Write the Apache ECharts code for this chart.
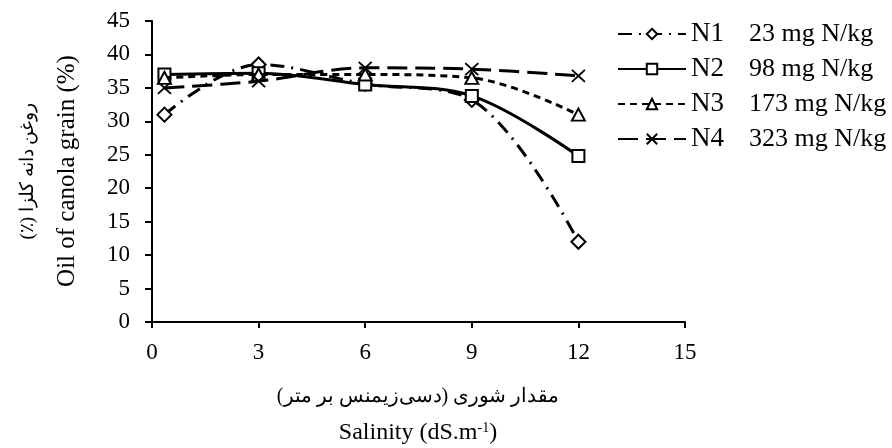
<!DOCTYPE html>
<html><head><meta charset="utf-8">
<script src="https://cdn.jsdelivr.net/npm/echarts@6/dist/echarts.min.js"></script>
<style>html,body{margin:0;padding:0;background:#fff}#c{width:892px;height:448px}</style>
</head><body><div id="c"></div>
<script>
const salinity = [0.35, 3, 6, 9, 12];
const seriesNames = ['N1', 'N2', 'N3', 'N4'];
const seriesDesc = ['23 mg N/kg', '98 mg N/kg', '173 mg N/kg', '323 mg N/kg'];
const n1 = [31, 38.5, 35.6, 33.2, 12];
const n2 = [37, 37.2, 35.5, 33.8, 24.8];
const n3 = [36.5, 37, 37, 36.5, 31];
const n4 = [35, 36, 38, 37.8, 36.8];
const xTitleFa = 'مقدار شوری (دسی‌زیمنس بر متر)';
const xTitleEn = 'Salinity (dS.m';
const yTitleFa = 'روغن دانه کلزا (٪)';
const yTitleEn = 'Oil of canola grain (%)';

const F = '"Liberation Serif","Times New Roman",serif';
const RLM = '\u200F';
const vals = [n1, n2, n3, n4];
const symbols = ['emptyDiamond', 'emptyRect', 'emptyTriangle', 'path://M0,0L10,10M10,0L0,10'];
const sizes = [[14, 14], [12, 12], [13, 12], [13, 12]];
const dashes = [[14, 7, 2, 7], 'solid', [7, 5], [20, 8]];
const descMap = {};
seriesNames.forEach((n, i) => descMap[n] = seriesDesc[i]);

const chart = echarts.init(document.getElementById('c'));
chart.setOption({
  backgroundColor: '#fff',
  animation: false,
  grid: { left: 152, top: 21, width: 533, height: 301 },
  xAxis: {
    type: 'value', min: 0, max: 15, interval: 3,
    axisLine: { lineStyle: { color: '#000', width: 2 } },
    axisTick: { show: true, length: 6, lineStyle: { color: '#000', width: 2 } },
    splitLine: { show: false },
    axisLabel: { color: '#000', fontFamily: F, fontSize: 23, margin: 19 }
  },
  yAxis: {
    type: 'value', min: 0, max: 45, interval: 5,
    axisLine: { show: true, lineStyle: { color: '#000', width: 2 } },
    axisTick: { show: true, length: 7, lineStyle: { color: '#000', width: 2 } },
    splitLine: { show: false },
    axisLabel: { color: '#000', fontFamily: F, fontSize: 23, margin: 22 }
  },
  legend: {
    orient: 'vertical', left: 612, top: 15, itemGap: 7,
    itemWidth: 68, itemHeight: 13,
    data: seriesNames,
    formatter: n => '{n|' + n + '}{d|' + descMap[n] + '}',
    textStyle: {
      color: '#000', fontFamily: F, fontSize: 26, lineHeight: 28,
      rich: {
        n: { fontFamily: F, fontSize: 27, width: 58, color: '#000', lineHeight: 28 },
        d: { fontFamily: F, fontSize: 26, color: '#000', lineHeight: 28 }
      }
    }
  },
  series: seriesNames.map((name, i) => ({
    name, type: 'line', smooth: 0.35,
    data: salinity.map((x, j) => [x, vals[i][j]]),
    symbol: symbols[i], symbolSize: sizes[i],
    itemStyle: { color: '#000', borderColor: '#000', borderWidth: 1.8 },
    lineStyle: { color: '#000', width: 3, type: dashes[i] },
    z: 2 + i
  })),
  graphic: [
    { type: 'text', x: 67, y: 171, rotation: Math.PI / 2,
      style: { text: yTitleEn, font: '25px ' + F, fill: '#000', align: 'center', verticalAlign: 'middle' } },
    { type: 'text', x: 28, y: 171, rotation: Math.PI / 2,
      style: { text: RLM + yTitleFa + RLM, font: '19px ' + F, fill: '#000', align: 'center', verticalAlign: 'middle' } },
    { type: 'text', x: 418, y: 397,
      style: { text: RLM + xTitleFa + RLM, font: '20px ' + F, fill: '#000', align: 'center', verticalAlign: 'middle' } },
    { type: 'text', x: 418, y: 433,
      style: { text: '{a|' + xTitleEn + '}{s|-1}{a|)}', align: 'center', verticalAlign: 'middle',
        rich: { a: { font: '24px ' + F, fill: '#000', verticalAlign: 'bottom' },
                s: { font: '14px ' + F, fill: '#000', verticalAlign: 'top', padding: [0, 0, 9, 0] } } } }
  ]
});
</script></body></html>
